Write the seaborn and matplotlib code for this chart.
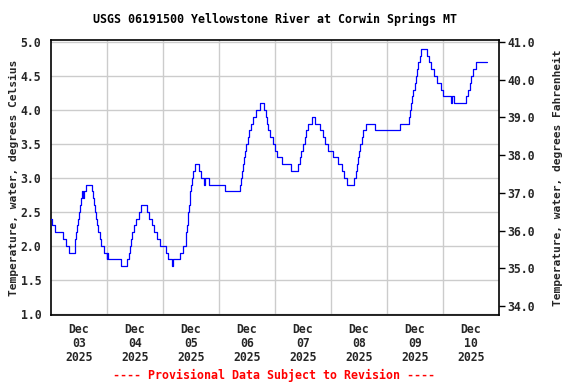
import matplotlib
matplotlib.use("Agg")
import matplotlib.pyplot as plt
import seaborn as sns
import numpy as np
import pandas as pd

# hours since 2025-12-03 00:00 (local), and water temperature (deg C), step breakpoints
hours = [0.0, 0.5, 1.9, 5.1, 6.6, 7.7, 10.1, 10.4, 10.7, 11.1, 11.6, 12.0, 12.4, 12.9,
         13.3, 13.6, 14.0, 14.9, 17.4, 17.9, 18.3, 18.9, 19.4, 19.9, 20.3, 20.9, 21.6,
         22.6, 23.9, 24.2, 24.4, 29.9, 32.7, 33.4, 34.0, 34.4, 34.9, 35.4, 36.5, 37.6,
         38.5, 41.0, 42.0, 43.1, 44.1, 45.3, 46.9, 49.1, 50.3, 51.7, 52.1, 55.5, 56.6,
         57.7, 58.0, 58.3, 58.6, 58.9, 59.1, 59.4, 59.7, 59.9, 60.3, 61.0, 61.7, 63.5,
         64.3, 65.6, 65.9, 67.8, 74.6, 80.9, 81.4, 81.9, 82.4, 82.9, 83.3, 83.7, 84.3,
         85.0, 85.7, 86.7, 87.9, 89.4, 91.3, 92.0, 92.6, 93.2, 94.0, 95.2, 96.0, 97.0,
         98.9, 103.0, 105.8, 106.5, 107.2, 108.0, 108.8, 109.4, 110.2, 112.0, 113.1,
         115.3, 116.4, 117.4, 118.6, 120.7, 123.1, 124.6, 125.7, 126.7, 130.0, 130.7,
         131.0, 131.4, 131.9, 132.4, 133.3, 133.9, 134.8, 138.7, 149.5, 153.3, 153.8,
         154.3, 154.8, 155.3, 155.8, 156.3, 156.8, 157.4, 158.0, 158.6, 161.3, 162.2,
         163.0, 164.0, 165.5, 167.0, 168.2, 171.4, 171.9, 172.9, 177.7, 178.6, 179.4,
         180.2, 181.0, 182.3, 187.0]
temp_c = [2.4, 2.3, 2.2, 2.1, 2.0, 1.9, 2.0, 2.1, 2.2, 2.3, 2.4, 2.5, 2.6, 2.7,
          2.8, 2.7, 2.8, 2.9, 2.8, 2.7, 2.6, 2.5, 2.4, 2.3, 2.2, 2.1, 2.0,
          1.9, 1.8, 1.9, 1.8, 1.7, 1.8, 1.9, 2.0, 2.1, 2.2, 2.3, 2.4, 2.5,
          2.6, 2.5, 2.4, 2.3, 2.2, 2.1, 2.0, 1.9, 1.8, 1.7, 1.8, 1.9, 2.0,
          2.1, 2.2, 2.3, 2.4, 2.5, 2.6, 2.7, 2.8, 2.9, 3.0, 3.1, 3.2, 3.1,
          3.0, 2.9, 3.0, 2.9, 2.8, 2.9, 3.0, 3.1, 3.2, 3.3, 3.4, 3.5, 3.6,
          3.7, 3.8, 3.9, 4.0, 4.1, 4.0, 3.9, 3.8, 3.7, 3.6, 3.5, 3.4, 3.3,
          3.2, 3.1, 3.2, 3.3, 3.4, 3.5, 3.6, 3.7, 3.8, 3.9, 3.8,
          3.7, 3.6, 3.5, 3.4, 3.3, 3.2, 3.1, 3.0, 2.9, 3.0, 3.1,
          3.2, 3.3, 3.4, 3.5, 3.6, 3.7, 3.8, 3.7, 3.8, 3.9, 4.0,
          4.1, 4.2, 4.3, 4.4, 4.5, 4.6, 4.7, 4.8, 4.9, 4.8, 4.7,
          4.6, 4.5, 4.4, 4.3, 4.2, 4.1, 4.2, 4.1, 4.2, 4.3, 4.4,
          4.5, 4.6, 4.7, 4.7]

day_labels = ["Dec\n03\n2025", "Dec\n04\n2025", "Dec\n05\n2025", "Dec\n06\n2025",
              "Dec\n07\n2025", "Dec\n08\n2025", "Dec\n09\n2025", "Dec\n10\n2025"]
c_ticks = [1.0, 1.5, 2.0, 2.5, 3.0, 3.5, 4.0, 4.5, 5.0]
f_ticks = [34.0, 35.0, 36.0, 37.0, 38.0, 39.0, 40.0, 41.0]

title = "USGS 06191500 Yellowstone River at Corwin Springs MT"
ylabel_left = "Temperature, water, degrees Celsius"
ylabel_right = "Temperature, water, degrees Fahrenheit"
footer = "---- Provisional Data Subject to Revision ----"

sns.set_style("white")
plt.rcParams["font.family"] = ["DejaVu Sans Mono"]
plt.rcParams["font.weight"] = "bold"
FS_T = 8.4   # title / footer
FS = 8.3     # tick labels
FS_L = 8.1   # axis labels

df = pd.DataFrame({"hours": hours, "temp": temp_c})

fig = plt.figure(figsize=(5.76, 3.84), dpi=100)
ax = fig.add_axes([51 / 576, 1 - 315 / 384, 448 / 576, 275 / 384])

sns.lineplot(data=df, x="hours", y="temp", ax=ax, color="#0000ff",
             linewidth=0.9, drawstyle="steps-post", zorder=3)

ylo, yhi = 0.98, 5.03
ax.set_xlim(0, 192)
ax.set_ylim(ylo, yhi)

# x ticks: labels at noon, grid at midnight
ax.set_xticks([12 + 24 * i for i in range(8)])
ax.set_xticklabels(day_labels, fontsize=FS, fontweight="bold", linespacing=1.08)
ax.set_xticks([24 * i for i in range(1, 8)], minor=True)
ax.tick_params(axis="x", which="both", length=0, pad=6)

ax.set_yticks(c_ticks)
ax.set_yticklabels([f"{v:.1f}" for v in c_ticks], fontsize=FS, fontweight="bold")
ax.tick_params(axis="y", length=0, pad=7)

ax.grid(False)
ax.xaxis.grid(True, which="minor", color="#cccccc", linewidth=1.0)
ax.yaxis.grid(True, which="major", color="#cccccc", linewidth=1.0)
ax.set_axisbelow(True)

ax.set_xlabel("")
ax.set_ylabel(ylabel_left, fontsize=FS_L, fontweight="bold", labelpad=1)

for s in ax.spines.values():
    s.set_color("black")
    s.set_linewidth(1.2)

ax2 = ax.twinx()
ax2.set_ylim(ylo * 1.8 + 32, yhi * 1.8 + 32)
ax2.set_yticks(f_ticks)
ax2.set_yticklabels([f"{v:.1f}" for v in f_ticks], fontsize=FS, fontweight="bold")
ax2.tick_params(axis="y", direction="out", length=4, width=1, pad=2, color="black")
ax2.set_ylabel(ylabel_right, fontsize=FS_L, fontweight="bold", labelpad=13)
ax2.grid(False)
for s in ax2.spines.values():
    s.set_visible(False)

fig.text(275 / 576, 1 - 19 / 384, title, ha="center", va="center",
         fontsize=FS_T, fontweight="bold", color="black")
fig.text(274 / 576, 1 - 375 / 384, footer, ha="center", va="center",
         fontsize=FS_T, fontweight="bold", color="#ff0000")

fig.savefig("out.png", dpi=100)
